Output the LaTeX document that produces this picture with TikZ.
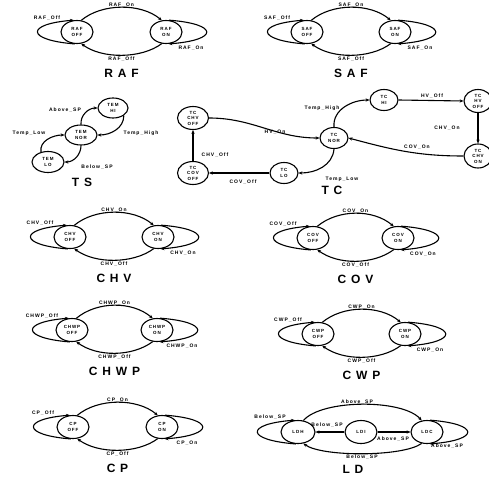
\documentclass[tikz,border=0pt]{standalone}
\usepackage{fontspec}
\setmainfont{Liberation Sans}
\newfontfamily\spaced{Liberation Sans}[LetterSpace=20]
\newfontfamily\spacedt{Liberation Sans}[LetterSpace=40]
\usetikzlibrary{shapes.geometric,arrows.meta}
\newcommand\nodefnt{\spaced\bfseries\fontsize{4.5}{5.5}\selectfont}
\newcommand\labfnt{\spaced\bfseries\fontsize{5}{5.8}\selectfont}
\newcommand\ttlfnt{\spacedt\bfseries\fontsize{12}{14}\selectfont}
\tikzset{
  st/.style={ellipse, draw, line width=1.1pt, minimum width=32pt, minimum height=23pt,
    inner sep=0pt, align=center, font=\nodefnt},
  lab/.style={font=\labfnt, inner sep=0.5pt},
  ttl/.style={font=\ttlfnt, inner sep=0pt},
  arr/.style={line width=1.1pt, -{Stealth[length=3.8pt,width=3.2pt]}}
}
\newcommand\twostate[5]{%
 \node[st] (#1off) at (#3,#5) {#2\\OFF};
 \node[st] (#1on) at (#4,#5) {#2\\ON};
 \draw[arr] (#1off.70) .. controls ({#3+25},{#5-29}) and ({#4-25},{#5-29}) .. (#1on.110)
   node[lab] at ({(#3+#4)/2},{#5-27}) {#2\_On};
 \draw[arr] (#1on.-110) .. controls ({#4-25},{#5+27}) and ({#3+25},{#5+27}) .. (#1off.-70)
   node[lab] at ({(#3+#4)/2},{#5+27}) {#2\_Off};
 \draw[arr] (#1off.-100) .. controls ({#3-51.5},{#5+8}) and ({#3-51.5},{#5-8}) .. (#1off.105)
   node[lab] at ({#3-30},{#5-14}) {#2\_Off};
 \draw[arr] (#1on.75) .. controls ({#4+53},{#5-8}) and ({#4+53},{#5+8}) .. (#1on.-78)
   node[lab] at ({#4+25},{#5+16}) {#2\_On};
 \node[ttl] (#1t) at ({(#3+#4)/2},{#5+41}) {#2};
}
\begin{document}
\begin{tikzpicture}[x=1pt,y=-1pt]
\useasboundingbox (0,0) rectangle (489,476);

\twostate{raf}{RAF}{77}{166}{32}
\twostate{saf}{SAF}{307}{395}{32}
\twostate{chv}{CHV}{70}{158}{237}
\twostate{cov}{COV}{313}{398}{238}
\twostate{chwp}{CHWP}{72}{157}{330}
\twostate{cwp}{CWP}{318}{405}{334}
\twostate{cp}{CP}{73}{162}{427}

% TS
\node[st, minimum width=30pt, minimum height=20pt] (tshi) at (113,108) {TEM\\HI};
\node[st, minimum width=32pt, minimum height=20pt] (tsnor) at (81,135) {TEM\\NOR};
\node[st, minimum width=32pt, minimum height=21pt] (tslo) at (48,162) {TEM\\LO};
\draw[arr] (tsnor.north) to[out=95,in=180] (tshi.west)
  node[lab] at (65,110) {Above\_SP};
\draw[arr] (tshi.-35) to[out=-90,in=0] (tsnor.east)
  node[lab] at (141,133) {Temp\_High};
\draw[arr] (tslo.125) to[out=100,in=180] (tsnor.west)
  node[lab] at (29,133) {Temp\_Low};
\draw[arr] (tsnor.south) to[out=-90,in=0] (tslo.east)
  node[lab] at (97,167) {Below\_SP};
\node[ttl] (tst) at (82,182) {TS};

% TC
\node[st, minimum width=31pt, minimum height=23pt] (tcchvoff) at (193,118) {TC\\CHV\\OFF};
\node[st, minimum width=31pt, minimum height=23pt] (tccovoff) at (193,173) {TC\\COV\\OFF};
\node[st, minimum width=28pt, minimum height=21pt] (tclo) at (284,173) {TC\\LO};
\node[st, minimum width=28pt, minimum height=21pt] (tcnor) at (334,138) {TC\\NOR};
\node[st, minimum width=28pt, minimum height=21pt] (tchi) at (384,100) {TC\\HI};
\node[st, minimum width=28pt, minimum height=23pt] (tchvoff) at (478,101) {TC\\HV\\OFF};
\node[st, minimum width=28pt, minimum height=24pt] (tcchvon) at (478,156) {TC\\CHV\\ON};
\draw[arr] (tcchvoff.east) to[out=0,in=180] (tcnor.west)
  node[lab] at (275,132) {HV\_On};
\draw[arr] (tcnor.north) to[out=95,in=180] (tchi.west)
  node[lab] at (322,108) {Temp\_High};
\draw[arr] (tchi.east) -- (tchvoff.west)
  node[lab] at (432,96) {HV\_Off};
\draw[arr] (tchvoff.south) -- (tcchvon.north)
  node[lab] at (447,128) {CHV\_On};
\draw[arr] (tcchvon.west) to[out=180,in=-15] (tcnor.east)
  node[lab] at (417,147) {COV\_On};
\draw[arr] (tcnor.south) to[out=-95,in=0] (tclo.east)
  node[lab] at (342,179) {Temp\_Low};
\draw[arr] (tclo.west) -- (tccovoff.east)
  node[lab] at (243,182) {COV\_Off};
\draw[arr] (tccovoff.north) -- (tcchvoff.south)
  node[lab] at (215,155) {CHV\_Off};
\node[ttl] (tct) at (332,190) {TC};

% LD
\node[st, minimum width=34pt] (ldh) at (298,432) {LDH};
\node[st, minimum width=32pt] (ldi) at (361,432) {LDI};
\node[st, minimum width=32pt] (ldc) at (427,432) {LDC};
\draw[arr] (ldh.65) .. controls (322,399) and (403,399) .. (ldc.115)
  node[lab] at (357,402) {Above\_SP};
\draw[arr] (ldc.-115) .. controls (403,457) and (322,457) .. (ldh.-65)
  node[lab] at (362,457) {Below\_SP};
\draw[arr] (ldi.west) -- (ldh.east)
  node[lab] at (327,425) {Below\_SP};
\draw[arr] (ldi.east) -- (ldc.west)
  node[lab] at (393,439) {Above\_SP};
\draw[arr] (ldh.-100) .. controls (245,440) and (245,424) .. (ldh.105)
  node[lab] at (270,417) {Below\_SP};
\draw[arr] (ldc.75) .. controls (480,424) and (480,440) .. (ldc.-78)
  node[lab] at (447,446) {Above\_SP};
\node[ttl] (ldt) at (353,469) {LD};
\end{tikzpicture}
\end{document}
